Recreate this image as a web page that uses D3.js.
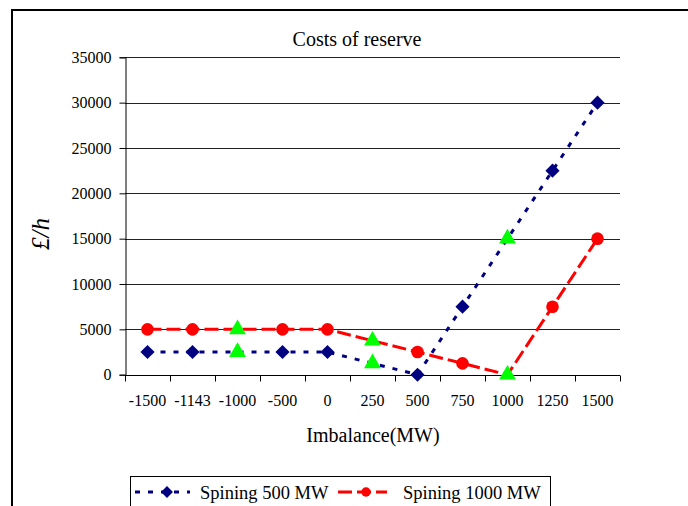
<!DOCTYPE html>
<html>
<head>
<meta charset="utf-8">
<script src="https://cdn.jsdelivr.net/npm/d3@7"></script>
<style>
  html, body { margin: 0; padding: 0; background: #fff; }
  svg { display: block; font-family: "Liberation Serif", "Times New Roman", serif; }
</style>
</head>
<body>
<svg id="chart" width="688" height="506"></svg>
<script>
// Imbalance categories (MW) on the horizontal axis
const categories = ["-1500", "-1143", "-1000", "-500", "0", "250", "500", "750", "1000", "1250", "1500"];
// Cost of reserve (£/h) for each spinning reserve level
const spin500 = [2500, 2500, 2500, 2500, 2500, 1250, 0, 7500, 15000, 22500, 30000];
const spin1000 = [5000, 5000, 5000, 5000, 5000, 3750, 2500, 1250, 0, 7500, 15000];
// Points drawn with a highlighted triangle marker
const highlighted = ["-1000", "250", "1000"];
const yTicks = [0, 5000, 10000, 15000, 20000, 25000, 30000, 35000];
const seriesNames = ["Spining 500 MW", "Spining 1000 MW"];

const svg = d3.select("#chart");

// frame around the figure
svg.append("line").attr("x1", 12).attr("x2", 12).attr("y1", 9).attr("y2", 506)
  .attr("stroke", "#000").attr("stroke-width", 2);
svg.append("line").attr("x1", 11).attr("x2", 688).attr("y1", 10).attr("y2", 10)
  .attr("stroke", "#000").attr("stroke-width", 2);

const plot = { left: 125, right: 620, top: 57.3, bottom: 374.7 };

const x = d3.scaleBand().domain(categories).range([plot.left, plot.right]).padding(0);
const y = d3.scaleLinear().domain([0, 35000]).range([plot.bottom, plot.top]);
const cx = d => x(d) + x.bandwidth() / 2;

// square-diamond marker (a square turned 45 degrees)
const diamond = {
  draw(ctx, size) {
    const r = Math.sqrt(size / 2);
    ctx.moveTo(0, -r); ctx.lineTo(r, 0); ctx.lineTo(0, r); ctx.lineTo(-r, 0); ctx.closePath();
  }
};

// horizontal gridlines
svg.append("g").selectAll("line").data(yTicks.filter(t => t > 0)).join("line")
  .attr("x1", plot.left).attr("x2", plot.right)
  .attr("y1", d => Math.round(y(d)) + 0.5).attr("y2", d => Math.round(y(d)) + 0.5)
  .attr("stroke", "#222").attr("stroke-width", 1);

// y axis
const yAxis = svg.append("g").attr("transform", `translate(${plot.left + 0.5},0)`)
  .call(d3.axisLeft(y).tickValues(yTicks).tickSize(6).tickPadding(8).tickFormat(d3.format("d")));
yAxis.select(".domain").attr("stroke", "#000");
yAxis.selectAll(".tick line").attr("stroke", "#000");
yAxis.selectAll("text").attr("font-size", 16).attr("font-family", "Liberation Serif").attr("fill", "#000");

// x axis: ticks at category boundaries, labels centred in each category
const xg = svg.append("g").attr("transform", `translate(0,${Math.round(plot.bottom) + 0.5})`);
xg.append("line").attr("x1", plot.left).attr("x2", plot.right).attr("stroke", "#000");
const bounds = categories.map(c => x(c) + x.bandwidth()).concat([plot.left]);
xg.selectAll("line.tk").data(bounds).join("line").attr("class", "tk")
  .attr("x1", d => Math.round(d) + 0.5).attr("x2", d => Math.round(d) + 0.5)
  .attr("y1", 0).attr("y2", 6).attr("stroke", "#000");
xg.selectAll("text").data(categories).join("text")
  .attr("x", d => cx(d)).attr("y", 30)
  .attr("text-anchor", "middle").attr("font-size", 16).text(d => d);

// title and axis labels
svg.append("text").attr("x", 357).attr("y", 46).attr("text-anchor", "middle")
  .attr("font-size", 20).text("Costs of reserve");
svg.append("text").attr("x", 373).attr("y", 442).attr("text-anchor", "middle")
  .attr("font-size", 20).text("Imbalance(MW)");
svg.append("text").attr("transform", "translate(49,234) rotate(-90)")
  .attr("text-anchor", "middle").attr("font-size", 25).attr("font-style", "italic")
  .text("£/h");

const series = [
  { name: seriesNames[0], values: spin500, color: "#000080", dash: "5,8", marker: diamond, size: 100 },
  { name: seriesNames[1], values: spin1000, color: "#ff0000", dash: "14,5", marker: d3.symbolCircle, size: 125 }
];

const line = d3.line().x(d => cx(d.c)).y(d => y(d.v));

series.forEach(s => {
  const pts = categories.map((c, i) => ({ c, v: s.values[i] }));
  svg.append("path").datum(pts).attr("d", line)
    .attr("fill", "none").attr("stroke", s.color).attr("stroke-width", 3)
    .attr("stroke-dasharray", s.dash);
});

series.forEach(s => {
  const pts = categories.map((c, i) => ({ c, v: s.values[i] }));
  svg.append("g").selectAll("path").data(pts).join("path")
    .attr("transform", d => `translate(${cx(d.c)},${y(d.v)})`)
    .attr("d", d => highlighted.includes(d.c)
      ? d3.symbol(d3.symbolTriangle, 125)()
      : d3.symbol(s.marker, s.size)())
    .attr("fill", d => highlighted.includes(d.c) ? "#00ff00" : s.color);
});

// legend
const lg = svg.append("g");
lg.append("rect").attr("x", 130.5).attr("y", 476.5).attr("width", 420).attr("height", 40)
  .attr("fill", "#fff").attr("stroke", "#000").attr("stroke-width", 1);
const legendItems = [
  { s: series[0], x1: 135, x2: 190, mx: 167, tx: 200 },
  { s: series[1], x1: 338, x2: 387, mx: 366, tx: 403 }
];
legendItems.forEach(it => {
  lg.append("line").attr("x1", it.x1).attr("x2", it.x2).attr("y1", 492).attr("y2", 492)
    .attr("stroke", it.s.color).attr("stroke-width", 3).attr("stroke-dasharray", it.s.dash);
  lg.append("path").attr("transform", `translate(${it.mx},492)`)
    .attr("d", d3.symbol(it.s.marker, 70)()).attr("fill", it.s.color);
  lg.append("text").attr("x", it.tx).attr("y", 499).attr("font-size", 18.5).text(it.s.name);
});
</script>
</body>
</html>
